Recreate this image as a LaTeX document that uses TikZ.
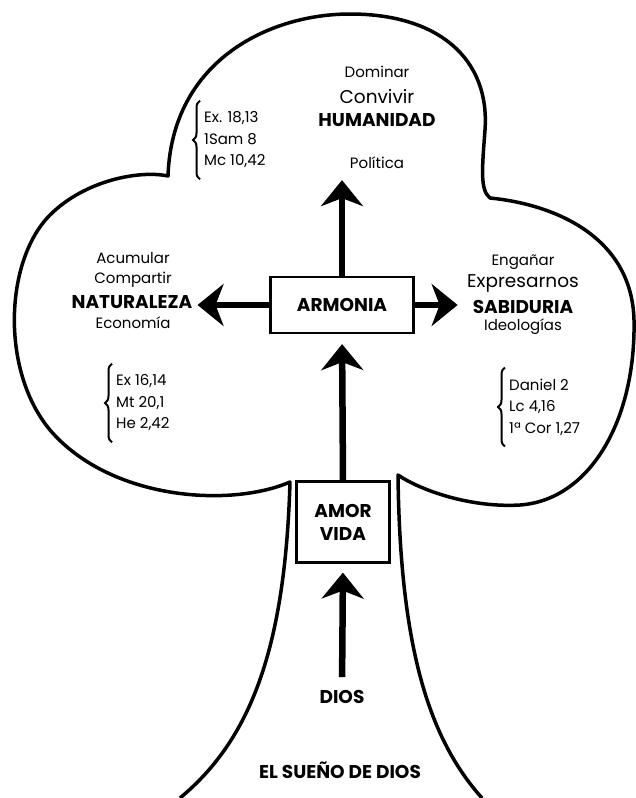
\documentclass[tikz,border=0pt]{standalone}
\usepackage{fontspec}
\setmainfont{Poppins}
\usetikzlibrary{arrows.meta,positioning,decorations.pathreplacing}

\begin{document}
\begin{tikzpicture}[x=1pt,y=-1pt,>={Stealth[inset=8pt,length=26pt,width=42pt]},
    box/.style={draw,line width=2.2pt,inner sep=0pt},
    small/.style={font=\fontsize{15}{17}\selectfont,inner sep=1pt},
    mid/.style={font=\fontsize{18.5}{20}\selectfont,inner sep=1pt},
    key/.style={font=\bfseries\fontsize{18.5}{20}\selectfont,inner sep=1pt},
    refs/.style={font=\fontsize{15}{21.5}\selectfont,align=left,inner sep=1pt,anchor=west},
    curly/.style={decorate,decoration={brace,amplitude=7pt},line width=2pt},
    flow/.style={->,line width=6.5pt}]
  \useasboundingbox (0,0) rectangle (636,798);
  % tree outline
  \draw[line width=3.5pt,line join=round]
    (180,798) .. controls (250,740) and (285,650) .. (290,482)
    .. controls (230,508) and (110,500) .. (50,430)
    .. controls (0,370) and (5,260) .. (50,215)
    .. controls (85,180) and (140,170) .. (168,176)
    .. controls (172,60) and (270,14) .. (350,14)
    .. controls (440,14) and (490,60) .. (485,130)
    .. controls (482,170) and (480,190) .. (490,198)
    .. controls (560,205) and (632,240) .. (634,320)
    .. controls (636,420) and (590,500) .. (520,505)
    .. controls (470,508) and (420,490) .. (398,475)
    .. controls (400,650) and (430,740) .. (482,798);
  % centre boxes
  \node[box,minimum width=143pt,minimum height=56pt,font=\bfseries\fontsize{18.5}{20}\selectfont] (armonia) at (342,305) {ARMONIA};
  \node[box,minimum width=93pt,minimum height=81pt,align=center,font=\bfseries\fontsize{18.5}{23}\selectfont] (amor) at (343,522) {AMOR\\VIDA};
  \node[key] (dios) at (342,697) {DIOS};
  \node[key] (sueno) at (340,770) {EL SUEÑO DE DIOS};
  % top lobe
  \node[small] (dominar) at (377,72) {Dominar};
  \node[mid] (convivir) at (377,97) {Convivir};
  \node[key] (humanidad) at (377,120) {HUMANIDAD};
  \node[small] (politica) at (377,163) {Política};
  \node[refs] (refsH) at (203,140) {Ex. 18,13\\1Sam 8\\Mc 10,42};
  % left lobe
  \node[small] (acumular) at (133,258) {Acumular};
  \node[small] (compartir) at (133,280) {Compartir};
  \node[key] (naturaleza) at (132,302) {NATURALEZA};
  \node[small] (economia) at (133,323) {Economía};
  \node[refs] (refsN) at (115,403) {Ex 16,14\\Mt 20,1\\He 2,42};
  % right lobe
  \node[small] (enganar) at (523,262) {Engañar};
  \node[mid] (expresarnos) at (523,283) {Expresarnos};
  \node[key] (sabiduria) at (523,307) {SABIDURIA};
  \node[small] (ideologias) at (523,327) {Ideologías};
  \node[refs] (refsS) at (508,407) {Daniel 2\\Lc 4,16\\1ª Cor 1,27};
  % braces
  \draw[curly] ([shift={(-3,10)}]refsH.south west) -- ([shift={(-3,-10)}]refsH.north west);
  \draw[curly] ([shift={(-3,10)}]refsN.south west) -- ([shift={(-3,-10)}]refsN.north west);
  \draw[curly] ([shift={(-3,10)}]refsS.south west) -- ([shift={(-3,-10)}]refsS.north west);
  % arrows
  \draw[flow,shorten >=10pt] (armonia.north) -- (armonia.north |- politica.south);
  \draw[flow,shorten >=4pt] (armonia.west) -- (armonia.west -| naturaleza.east);
  \draw[flow,shorten >=14pt] (armonia.east) -- (armonia.east -| sabiduria.west);
  \draw[flow,shorten >=10pt] (amor.north) -- (armonia.south);
  \draw[flow,shorten <=12pt,shorten >=9pt] (dios.north) -- (amor.south);
\end{tikzpicture}
\end{document}
